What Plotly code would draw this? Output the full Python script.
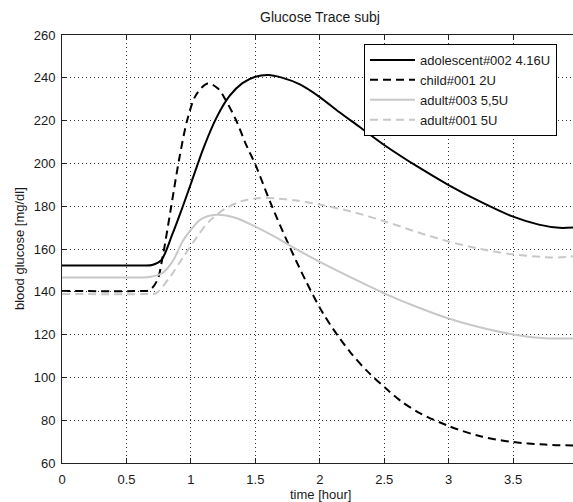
import plotly.graph_objects as go

# ---- data ----
t_adolescent = [0, 0.60, 0.70, 0.77, 0.855, 0.935, 1.0, 1.1, 1.2, 1.3, 1.4, 1.5, 1.6,
                1.7, 1.85, 2.0, 2.15, 2.31, 2.5, 2.75, 3.0, 3.25, 3.5, 3.7, 3.86, 3.965]
g_adolescent = [152.3, 152.3, 152.5, 154.8, 166.7, 179.5, 190.5, 207.5, 221.5, 231.5, 237.5, 240.5, 241.3,
                240.2, 236.8, 231, 224, 217, 208.6, 198.8, 189.9, 182, 175.1, 171.4, 169.9, 170.1]

t_child = [0, 0.60, 0.68, 0.74, 0.78, 0.845, 0.91, 0.975, 1.04, 1.13, 1.21, 1.27, 1.35, 1.43, 1.5,
           1.62, 1.75, 1.89, 2.02, 2.14, 2.24, 2.37, 2.51, 2.63, 2.78, 3.0, 3.24, 3.5, 3.75, 3.965]
g_child = [140.4, 140.4, 140.8, 145.5, 156, 179, 202.3, 221, 232, 237.3, 235, 229.6, 220.3, 208.5, 199.5,
           181.3, 163.2, 145.3, 130.5, 119.5, 111.5, 102.8, 95, 88.9, 83.2, 77.3, 72.6, 69.8, 68.6, 68.2]

t_adult003 = [0, 0.60, 0.68, 0.78, 0.857, 0.935, 1.0, 1.08, 1.2, 1.35, 1.5, 1.65, 1.8, 2.0, 2.23, 2.5,
              2.75, 3.0, 3.25, 3.5, 3.75, 3.965]
g_adult003 = [146.7, 146.7, 146.9, 148.8, 154.1, 163.5, 169, 174, 176, 174.5, 170.5, 165.8, 160.5, 154, 147.1, 139.3,
              133, 127.5, 123.3, 120.1, 118.3, 118.2]

t_adult001 = [0, 0.65, 0.73, 0.83, 0.935, 1.04, 1.14, 1.27, 1.4, 1.5, 1.6, 1.8, 2.0, 2.25, 2.5,
              2.75, 3.0, 3.25, 3.5, 3.75, 3.87, 3.965]
g_adult001 = [139, 139, 139.4, 146.3, 155.7, 165, 172.8, 179, 182.5, 183.6, 183.8, 182.8, 180.8, 177.4, 173,
              168, 163.5, 160, 157.5, 156.2, 156.1, 156.6]

names = ["adolescent#002 4.16U", "child#001 2U", "adult#003 5,5U", "adult#001 5U"]
x_ticks = [0, 0.5, 1, 1.5, 2, 2.5, 3, 3.5]
x_tick_labels = ["0", "0.5", "1", "1.5", "2", "2.5", "3", "3.5"]
y_ticks = [60, 80, 100, 120, 140, 160, 180, 200, 220, 240, 260]

series = [
    (t_adolescent, g_adolescent, names[0], "black", "solid"),
    (t_child, g_child, names[1], "black", "8px,5px"),
    (t_adult003, g_adult003, names[2], "#c8c8c8", "solid"),
    (t_adult001, g_adult001, names[3], "#c8c8c8", "8px,5px"),
]

fig = go.Figure()
for t, g, name, color, dash in series:
    fig.add_trace(go.Scatter(
        x=t, y=g, name=name, mode="lines",
        line=dict(color=color, width=2, dash=dash, shape="spline", smoothing=0.9),
    ))

FONT = "Arial, Liberation Sans, Helvetica, sans-serif"
W, H = 573, 502
L, R, T, B = 62, 0, 35, 39

fig.update_layout(
    width=W, height=H,
    margin=dict(l=L, r=R, t=T, b=B),
    paper_bgcolor="white", plot_bgcolor="white",
    font=dict(family=FONT, size=13, color="#1a1a1a"),
    showlegend=True,
    legend=dict(
        x=(364 - L) / (W - L - R), y=(H - B - 44) / (H - T - B),
        xanchor="left", yanchor="top",
        bgcolor="white", bordercolor="black", borderwidth=1,
        font=dict(family=FONT, size=13, color="#1a1a1a"),
        itemwidth=45, tracegroupgap=0,
    ),
    title=dict(text="Glucose Trace subj", x=320 / W, xref="container", xanchor="center",
               y=1 - 17 / H, yref="container", yanchor="middle",
               font=dict(family=FONT, size=14, color="#1a1a1a")),
    xaxis=dict(
        range=[0, 3.965], tickvals=x_ticks, ticktext=x_tick_labels,
        showgrid=True, gridcolor="#333333", griddash="1px,3px", gridwidth=1,
        zeroline=False, showline=True, linecolor="#222222", linewidth=1,
        mirror="ticks", ticks="inside", ticklen=5, tickcolor="#222222",
        ticklabelstandoff=4,
    ),
    yaxis=dict(
        range=[60, 260], tickvals=y_ticks,
        showgrid=True, gridcolor="#333333", griddash="1px,3px", gridwidth=1,
        zeroline=False, showline=True, linecolor="#222222", linewidth=1,
        mirror=False, ticks="inside", ticklen=5, tickcolor="#222222",
        ticklabelstandoff=3,
    ),
    annotations=[
        dict(text="time [hour]", xref="paper", yref="paper", x=(320 - L) / (W - L - R), y=0,
             yshift=-31, xanchor="center", yanchor="middle", showarrow=False,
             font=dict(family=FONT, size=13, color="#1a1a1a")),
        dict(text="blood glucose [mg/dl]", xref="paper", yref="paper", x=0, y=0.5,
             xshift=-43, textangle=-90, xanchor="center", yanchor="middle", showarrow=False,
             font=dict(family=FONT, size=13, color="#1a1a1a")),
    ],
)

fig.write_html("out.html", config={"displayModeBar": False},
               post_script="document.body.style.margin='0';document.body.style.padding='0';")
